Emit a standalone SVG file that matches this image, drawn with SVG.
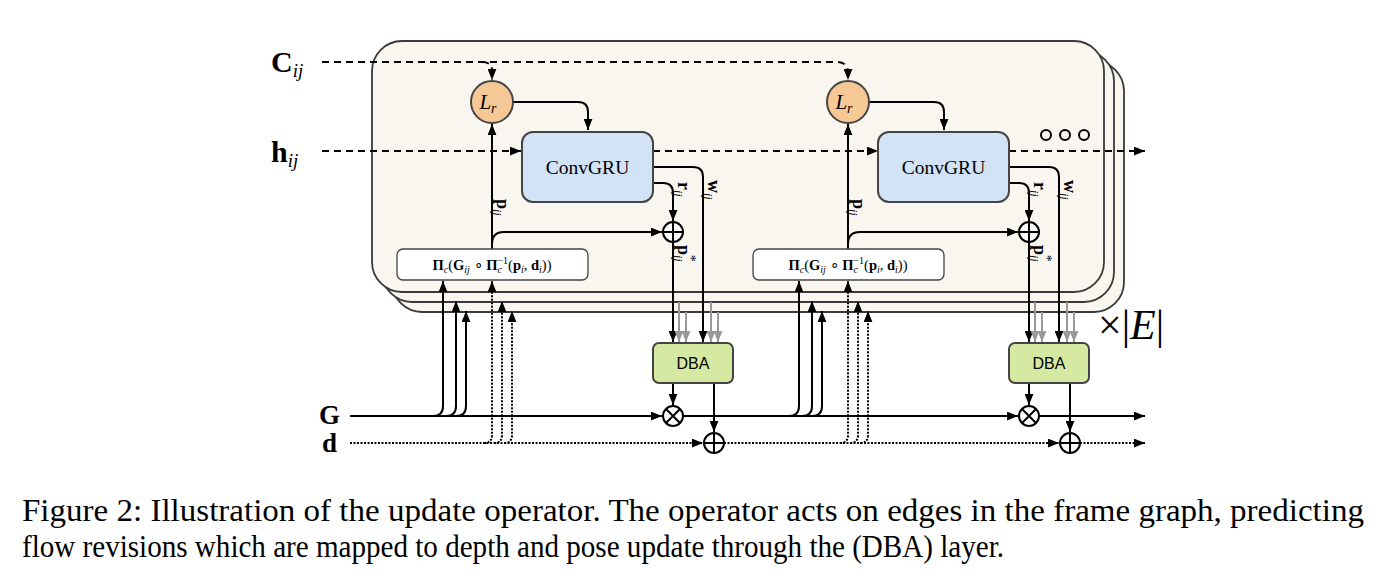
<svg xmlns="http://www.w3.org/2000/svg" width="1394" height="588" viewBox="0 0 1394 588">
<defs>
<marker id="ah" viewBox="0 0 10 8" refX="10" refY="4" markerWidth="11" markerHeight="9" markerUnits="userSpaceOnUse" orient="auto"><path d="M0,0 L10,4 L0,8 z" fill="#000"/></marker>
<marker id="ahg" viewBox="0 0 10 8" refX="10" refY="4" markerWidth="11" markerHeight="9" markerUnits="userSpaceOnUse" orient="auto"><path d="M0,0 L10,4 L0,8 z" fill="#999"/></marker>
</defs>
<style>
.panel{fill:#f8f6ef;stroke:#3a3a3a;stroke-width:1.8}
.lr{fill:#f6c896;stroke:#444;stroke-width:2}
.gru{fill:#d2e3f8;stroke:#444;stroke-width:2}
.dba{fill:#d5e9a2;stroke:#444;stroke-width:2}
.pi{fill:#fff;stroke:#444;stroke-width:1.3}
.op{fill:#fff;stroke:#000;stroke-width:2}
.ln{fill:none;stroke:#000;stroke-width:2}
.dash{fill:none;stroke:#000;stroke-width:2;stroke-dasharray:7,5}
.dot{fill:none;stroke:#000;stroke-width:2;stroke-dasharray:2,1.5}
.gray{fill:none;stroke:#999;stroke-width:2}
.serif{font-family:"Liberation Serif","Times New Roman",serif}
.sans{font-family:"Liberation Sans",Arial,sans-serif}
</style>
<rect width="1394" height="588" fill="#fff"/>
<g id="panels">
<rect class="panel" x="392" y="61" width="732" height="251" rx="30"/>
<rect class="panel" x="382" y="51" width="732" height="251" rx="30"/>
<rect class="panel" x="372" y="41" width="732" height="251" rx="30"/>
</g>
<g id="connectors">
<path class="dash" d="M322,62 H836 Q848,62 848,72 V80" marker-end="url(#ah)"/>
<path class="dash" d="M482,62 Q492,62 492,70 V80" marker-end="url(#ah)"/>
<path class="dash" d="M322,151 H521" marker-end="url(#ah)"/>
<path class="dash" d="M653,151 H878" marker-end="url(#ah)"/>
<path class="dash" d="M1009,151 H1145" marker-end="url(#ah)"/>
<path class="ln" d="M513,102 H578 Q588,102 588,112 V130" marker-end="url(#ah)"/>
<path class="ln" d="M869,102 H934 Q944,102 944,112 V130" marker-end="url(#ah)"/>
<path class="ln" d="M492,249 V124" marker-end="url(#ah)"/>
<path class="ln" d="M848,249 V124" marker-end="url(#ah)"/>
<path class="ln" d="M492,244 Q492,232 504,232 H662" marker-end="url(#ah)"/>
<path class="ln" d="M848,244 Q848,232 860,232 H1018" marker-end="url(#ah)"/>
<path class="ln" d="M653,183 H663 Q673,183 673,193 V221" marker-end="url(#ah)"/>
<path class="ln" d="M1009,183 H1019 Q1029,183 1029,193 V221" marker-end="url(#ah)"/>
<path class="ln" d="M653,167 H693 Q703,167 703,177 V342" marker-end="url(#ah)"/>
<path class="ln" d="M1009,167 H1049 Q1059,167 1059,177 V342" marker-end="url(#ah)"/>
<path class="ln" d="M673,242 V342" marker-end="url(#ah)"/>
<path class="ln" d="M1029,242 V342" marker-end="url(#ah)"/>
<path class="gray" d="M679,302 V342" marker-end="url(#ahg)"/>
<path class="gray" d="M686,312 V342" marker-end="url(#ahg)"/>
<path class="gray" d="M711,302 V342" marker-end="url(#ahg)"/>
<path class="gray" d="M718,312 V342" marker-end="url(#ahg)"/>
<path class="gray" d="M1035,302 V342" marker-end="url(#ahg)"/>
<path class="gray" d="M1042,312 V342" marker-end="url(#ahg)"/>
<path class="gray" d="M1067,302 V342" marker-end="url(#ahg)"/>
<path class="gray" d="M1074,312 V342" marker-end="url(#ahg)"/>
<path class="ln" d="M673,383 V405" marker-end="url(#ah)"/>
<path class="ln" d="M1029,383 V405" marker-end="url(#ah)"/>
<path class="ln" d="M714,383 V432" marker-end="url(#ah)"/>
<path class="ln" d="M1070,383 V432" marker-end="url(#ah)"/>
<path class="ln" d="M350,416 H662" marker-end="url(#ah)"/>
<path class="ln" d="M683,416 H1018" marker-end="url(#ah)"/>
<path class="ln" d="M1039,416 H1145" marker-end="url(#ah)"/>
<path class="dot" d="M350,443 H703" marker-end="url(#ah)"/>
<path class="dot" d="M724,443 H1059" marker-end="url(#ah)"/>
<path class="dot" d="M1080,443 H1145" marker-end="url(#ah)"/>
<path class="ln" d="M433,416 Q443,416 443,406 V281" marker-end="url(#ah)"/>
<path class="ln" d="M446,416 Q456,416 456,406 V301" marker-end="url(#ah)"/>
<path class="ln" d="M456,416 Q466,416 466,406 V311" marker-end="url(#ah)"/>
<path class="ln" d="M789,416 Q799,416 799,406 V281" marker-end="url(#ah)"/>
<path class="ln" d="M802,416 Q812,416 812,406 V301" marker-end="url(#ah)"/>
<path class="ln" d="M812,416 Q822,416 822,406 V311" marker-end="url(#ah)"/>
<path class="dot" d="M484,443 Q492,443 492,435 V281" marker-end="url(#ah)"/>
<path class="dot" d="M494,443 Q502,443 502,435 V301" marker-end="url(#ah)"/>
<path class="dot" d="M504,443 Q512,443 512,435 V311" marker-end="url(#ah)"/>
<path class="dot" d="M840,443 Q848,443 848,435 V281" marker-end="url(#ah)"/>
<path class="dot" d="M850,443 Q858,443 858,435 V301" marker-end="url(#ah)"/>
<path class="dot" d="M860,443 Q868,443 868,435 V311" marker-end="url(#ah)"/>
</g>
<g id="lr1"><circle class="lr" cx="492" cy="102" r="21"/><text class="serif" x="488" y="109" font-size="21" font-style="italic" text-anchor="middle">L<tspan font-size="14" dy="4">r</tspan></text></g>
<g id="lr2"><circle class="lr" cx="848" cy="102" r="21"/><text class="serif" x="844" y="109" font-size="21" font-style="italic" text-anchor="middle">L<tspan font-size="14" dy="4">r</tspan></text></g>
<g id="gru1"><rect class="gru" x="522" y="132" width="131" height="70" rx="11"/><text class="serif" x="587.5" y="174" font-size="19.5" text-anchor="middle">ConvGRU</text></g>
<g id="gru2"><rect class="gru" x="878" y="132" width="131" height="70" rx="11"/><text class="serif" x="943.5" y="174" font-size="19.5" text-anchor="middle">ConvGRU</text></g>
<g id="pi1"><rect class="pi" x="397" y="249" width="191" height="31" rx="6"/>
<text class="serif" x="492" y="270" font-size="14.5" text-anchor="middle"><tspan font-weight="bold">Π</tspan><tspan font-style="italic" font-size="10" dy="3">c</tspan><tspan dy="-3">(</tspan><tspan font-weight="bold">G</tspan><tspan font-style="italic" font-size="10" dy="3">ij</tspan><tspan dy="-3"> ∘ </tspan><tspan font-weight="bold">Π</tspan><tspan font-style="italic" font-size="10" dy="3">c</tspan><tspan font-size="10" dx="-4.5" dy="-9">−1</tspan><tspan dy="6">(</tspan><tspan font-weight="bold">p</tspan><tspan font-style="italic" font-size="10" dy="3">i</tspan><tspan dy="-3">, </tspan><tspan font-weight="bold">d</tspan><tspan font-style="italic" font-size="10" dy="3">i</tspan><tspan dy="-3">))</tspan></text></g>
<g id="pi2"><rect class="pi" x="753" y="249" width="191" height="31" rx="6"/>
<text class="serif" x="848" y="270" font-size="14.5" text-anchor="middle"><tspan font-weight="bold">Π</tspan><tspan font-style="italic" font-size="10" dy="3">c</tspan><tspan dy="-3">(</tspan><tspan font-weight="bold">G</tspan><tspan font-style="italic" font-size="10" dy="3">ij</tspan><tspan dy="-3"> ∘ </tspan><tspan font-weight="bold">Π</tspan><tspan font-style="italic" font-size="10" dy="3">c</tspan><tspan font-size="10" dx="-4.5" dy="-9">−1</tspan><tspan dy="6">(</tspan><tspan font-weight="bold">p</tspan><tspan font-style="italic" font-size="10" dy="3">i</tspan><tspan dy="-3">, </tspan><tspan font-weight="bold">d</tspan><tspan font-style="italic" font-size="10" dy="3">i</tspan><tspan dy="-3">))</tspan></text></g>
<g id="plus1"><circle class="op" cx="673" cy="232" r="10"/><path class="ln" d="M663,232 H683 M673,222 V242"/></g>
<g id="plus2"><circle class="op" cx="1029" cy="232" r="10"/><path class="ln" d="M1019,232 H1039 M1029,222 V242"/></g>
<g id="dba1"><rect class="dba" x="653" y="343" width="80" height="40" rx="6"/><text class="sans" x="693" y="369" font-size="16" text-anchor="middle">DBA</text></g>
<g id="dba2"><rect class="dba" x="1009" y="343" width="80" height="40" rx="6"/><text class="sans" x="1049" y="369" font-size="16" text-anchor="middle">DBA</text></g>
<g id="times1"><circle class="op" cx="673" cy="416" r="10"/><path class="ln" d="M666,409 L680,423 M680,409 L666,423"/></g>
<g id="times2"><circle class="op" cx="1029" cy="416" r="10"/><path class="ln" d="M1022,409 L1036,423 M1036,409 L1022,423"/></g>
<g id="add1"><circle class="op" cx="714" cy="443" r="10"/><path class="ln" d="M704,443 H724 M714,433 V453"/></g>
<g id="add2"><circle class="op" cx="1070" cy="443" r="10"/><path class="ln" d="M1060,443 H1080 M1070,433 V453"/></g>
<g id="dots"><circle cx="1046" cy="135" r="5" fill="none" stroke="#000" stroke-width="2"/><circle cx="1065" cy="135" r="5" fill="none" stroke="#000" stroke-width="2"/><circle cx="1084" cy="135" r="5" fill="none" stroke="#000" stroke-width="2"/></g>
<g id="labels" class="serif">
<text x="271" y="72" font-size="30" font-weight="bold">C<tspan font-size="19" font-weight="normal" font-style="italic" dy="5">ij</tspan></text>
<text x="271" y="162" font-size="30" font-weight="bold">h<tspan font-size="19" font-weight="normal" font-style="italic" dy="5">ij</tspan></text>
<text x="319" y="424" font-size="27" font-weight="bold">G</text>
<text x="322" y="452" font-size="27" font-weight="bold">d</text>
<text transform="translate(497,199) rotate(90)" font-size="18" font-weight="bold">p<tspan font-size="12" font-weight="normal" font-style="italic" dy="4">ij</tspan></text>
<text transform="translate(853,199) rotate(90)" font-size="18" font-weight="bold">p<tspan font-size="12" font-weight="normal" font-style="italic" dy="4">ij</tspan></text>
<text transform="translate(678,182) rotate(90)" font-size="18" font-weight="bold">r<tspan font-size="12" font-weight="normal" font-style="italic" dy="4">ij</tspan></text>
<text transform="translate(1034,182) rotate(90)" font-size="18" font-weight="bold">r<tspan font-size="12" font-weight="normal" font-style="italic" dy="4">ij</tspan></text>
<text transform="translate(708,180) rotate(90)" font-size="18" font-weight="bold">w<tspan font-size="12" font-weight="normal" font-style="italic" dy="4">ij</tspan></text>
<text transform="translate(1064,180) rotate(90)" font-size="18" font-weight="bold">w<tspan font-size="12" font-weight="normal" font-style="italic" dy="4">ij</tspan></text>
<text transform="translate(678,245) rotate(90)" font-size="18" font-weight="bold">p<tspan font-size="12" font-weight="normal" font-style="italic" dy="4">ij</tspan><tspan font-size="14" font-weight="normal" dx="-7" dy="-12">*</tspan></text>
<text transform="translate(1034,245) rotate(90)" font-size="18" font-weight="bold">p<tspan font-size="12" font-weight="normal" font-style="italic" dy="4">ij</tspan><tspan font-size="14" font-weight="normal" dx="-7" dy="-12">*</tspan></text>
<text x="1098" y="339" font-size="42">×|<tspan font-style="italic">E</tspan>|</text>
</g>
<g id="caption" class="serif" font-size="31">
<text x="22" y="521" textLength="1342" lengthAdjust="spacingAndGlyphs">Figure 2: Illustration of the update operator. The operator acts on edges in the frame graph, predicting</text>
<text x="22" y="557" textLength="982" lengthAdjust="spacingAndGlyphs">flow revisions which are mapped to depth and pose update through the (DBA) layer.</text>
</g>
</svg>
